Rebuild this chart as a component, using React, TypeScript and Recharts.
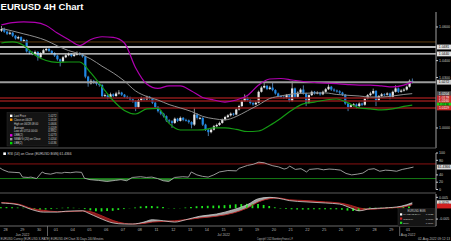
import React from 'react';
import { ComposedChart, Bar, Line, Area, XAxis, YAxis, ReferenceLine } from 'recharts';

// ---------- price candles (4H) ----------
const opens = [
  1.0578, 1.0588, 1.0572, 1.0560, 1.0566, 1.0548, 1.0532, 1.0540, 1.0518, 1.0522,
  1.0455, 1.0448, 1.0440, 1.0452, 1.0420, 1.0445, 1.0462, 1.0470, 1.0458, 1.0445,
  1.0430, 1.0408, 1.0395, 1.0420, 1.0432, 1.0440, 1.0428, 1.0436, 1.0445, 1.0438,
  1.0425, 1.0305, 1.0265, 1.0280, 1.0270, 1.0262, 1.0255, 1.0190, 1.0195, 1.0180,
  1.0200, 1.0190, 1.0205, 1.0210, 1.0198, 1.0185, 1.0180, 1.0170, 1.0160, 1.0125,
  1.0165, 1.0178, 1.0170, 1.0185, 1.0175, 1.0150, 1.0125, 1.0100, 1.0085, 1.0070,
  1.0045, 1.0040, 1.0030, 1.0055, 1.0042, 1.0060, 1.0048, 1.0045, 1.0035, 1.0020,
  1.0080, 1.0060, 1.0060, 1.0020, 0.9990, 0.9975, 0.9990, 1.0010, 1.0018, 1.0030,
  1.0050, 1.0065, 1.0075, 1.0085, 1.0080, 1.0110, 1.0130, 1.0160, 1.0180, 1.0165,
  1.0148, 1.0140, 1.0150, 1.0215, 1.0240, 1.0250, 1.0232, 1.0240, 1.0225, 1.0205,
  1.0190, 1.0185, 1.0180, 1.0195, 1.0160, 1.0235, 1.0185, 1.0210, 1.0228, 1.0205,
  1.0150, 1.0195, 1.0215, 1.0205, 1.0210, 1.0200, 1.0215, 1.0230, 1.0245, 1.0228,
  1.0222, 1.0218, 1.0210, 1.0198, 1.0145, 1.0125, 1.0135, 1.0140, 1.0130, 1.0145,
  1.0138, 1.0175, 1.0195, 1.0205, 1.0220, 1.0165, 1.0190, 1.0200, 1.0198, 1.0205,
  1.0185, 1.0215, 1.0235, 1.0215, 1.0222, 1.0228, 1.0245, 1.0280,
];
const highs = [
  1.0606, 1.0596, 1.0580, 1.0574, 1.0570, 1.0553, 1.0548, 1.0545, 1.0530, 1.0526,
  1.0462, 1.0455, 1.0460, 1.0456, 1.0450, 1.0470, 1.0485, 1.0476, 1.0463, 1.0450,
  1.0435, 1.0412, 1.0428, 1.0440, 1.0448, 1.0445, 1.0442, 1.0455, 1.0450, 1.0442,
  1.0430, 1.0310, 1.0290, 1.0286, 1.0275, 1.0268, 1.0260, 1.0205, 1.0200, 1.0210,
  1.0206, 1.0215, 1.0225, 1.0215, 1.0202, 1.0192, 1.0186, 1.0176, 1.0165, 1.0172,
  1.0186, 1.0184, 1.0192, 1.0190, 1.0180, 1.0155, 1.0130, 1.0106, 1.0090, 1.0075,
  1.0052, 1.0046, 1.0062, 1.0060, 1.0068, 1.0065, 1.0055, 1.0050, 1.0040, 1.0120,
  1.0088, 1.0068, 1.0064, 1.0025, 0.9995, 0.9998, 1.0018, 1.0026, 1.0038, 1.0056,
  1.0072, 1.0082, 1.0092, 1.0090, 1.0116, 1.0138, 1.0168, 1.0200, 1.0186, 1.0170,
  1.0155, 1.0158, 1.0222, 1.0248, 1.0268, 1.0256, 1.0250, 1.0270, 1.0230, 1.0210,
  1.0196, 1.0192, 1.0202, 1.0200, 1.0278, 1.0240, 1.0218, 1.0236, 1.0253, 1.0210,
  1.0200, 1.0222, 1.0220, 1.0218, 1.0215, 1.0222, 1.0238, 1.0258, 1.0250, 1.0235,
  1.0228, 1.0224, 1.0215, 1.0202, 1.0150, 1.0142, 1.0148, 1.0146, 1.0152, 1.0150,
  1.0182, 1.0202, 1.0215, 1.0234, 1.0225, 1.0196, 1.0208, 1.0206, 1.0212, 1.0210,
  1.0222, 1.0254, 1.0240, 1.0230, 1.0236, 1.0252, 1.0288, 1.0294,
];
const lows = [
  1.0570, 1.0565, 1.0552, 1.0553, 1.0540, 1.0525, 1.0526, 1.0512, 1.0510, 1.0448,
  1.0438, 1.0432, 1.0435, 1.0400, 1.0415, 1.0440, 1.0455, 1.0450, 1.0438, 1.0422,
  1.0400, 1.0366, 1.0390, 1.0415, 1.0426, 1.0420, 1.0422, 1.0430, 1.0430, 1.0418,
  1.0295, 1.0245, 1.0258, 1.0262, 1.0252, 1.0245, 1.0180, 1.0182, 1.0170, 1.0175,
  1.0182, 1.0185, 1.0198, 1.0190, 1.0178, 1.0172, 1.0162, 1.0150, 1.0100, 1.0118,
  1.0158, 1.0162, 1.0165, 1.0168, 1.0142, 1.0118, 1.0092, 1.0076, 1.0062, 1.0036,
  1.0030, 1.0000, 1.0024, 1.0035, 1.0038, 1.0040, 1.0038, 1.0026, 0.9998, 1.0012,
  1.0050, 1.0050, 1.0012, 0.9982, 0.9952, 0.9968, 0.9985, 1.0004, 1.0012, 1.0025,
  1.0044, 1.0058, 1.0068, 1.0072, 1.0076, 1.0104, 1.0125, 1.0155, 1.0158, 1.0140,
  1.0132, 1.0135, 1.0146, 1.0210, 1.0235, 1.0225, 1.0226, 1.0218, 1.0198, 1.0182,
  1.0176, 1.0172, 1.0174, 1.0153, 1.0155, 1.0178, 1.0180, 1.0204, 1.0198, 1.0130,
  1.0145, 1.0190, 1.0198, 1.0200, 1.0192, 1.0195, 1.0210, 1.0225, 1.0220, 1.0215,
  1.0210, 1.0202, 1.0190, 1.0138, 1.0100, 1.0118, 1.0128, 1.0115, 1.0124, 1.0130,
  1.0132, 1.0170, 1.0188, 1.0200, 1.0130, 1.0160, 1.0185, 1.0190, 1.0192, 1.0170,
  1.0180, 1.0210, 1.0208, 1.0210, 1.0216, 1.0222, 1.0240, 1.0265,
];
const closes = [
  1.0588, 1.0572, 1.0560, 1.0566, 1.0548, 1.0532, 1.0540, 1.0518, 1.0522, 1.0455,
  1.0448, 1.0440, 1.0452, 1.0420, 1.0445, 1.0462, 1.0470, 1.0458, 1.0445, 1.0430,
  1.0408, 1.0395, 1.0420, 1.0432, 1.0440, 1.0428, 1.0436, 1.0445, 1.0438, 1.0425,
  1.0305, 1.0265, 1.0280, 1.0270, 1.0262, 1.0255, 1.0190, 1.0195, 1.0180, 1.0200,
  1.0190, 1.0205, 1.0210, 1.0198, 1.0185, 1.0180, 1.0170, 1.0160, 1.0125, 1.0165,
  1.0178, 1.0170, 1.0185, 1.0175, 1.0150, 1.0125, 1.0100, 1.0085, 1.0070, 1.0045,
  1.0040, 1.0030, 1.0055, 1.0042, 1.0060, 1.0048, 1.0045, 1.0035, 1.0020, 1.0080,
  1.0060, 1.0060, 1.0020, 0.9990, 0.9975, 0.9990, 1.0010, 1.0018, 1.0030, 1.0050,
  1.0065, 1.0075, 1.0085, 1.0080, 1.0110, 1.0130, 1.0160, 1.0180, 1.0165, 1.0148,
  1.0140, 1.0150, 1.0215, 1.0240, 1.0250, 1.0232, 1.0240, 1.0225, 1.0205, 1.0190,
  1.0185, 1.0180, 1.0195, 1.0160, 1.0235, 1.0185, 1.0210, 1.0228, 1.0205, 1.0150,
  1.0195, 1.0215, 1.0205, 1.0210, 1.0200, 1.0215, 1.0230, 1.0245, 1.0228, 1.0222,
  1.0218, 1.0210, 1.0198, 1.0145, 1.0125, 1.0135, 1.0140, 1.0130, 1.0145, 1.0138,
  1.0175, 1.0195, 1.0205, 1.0220, 1.0165, 1.0190, 1.0200, 1.0198, 1.0205, 1.0185,
  1.0215, 1.0235, 1.0215, 1.0222, 1.0228, 1.0245, 1.0280, 1.0272,
];

// ---------- Bollinger band / SMA readings (every 4th candle) ----------
const bandIdx = [0, 4, 8, 12, 16, 20, 24, 28, 32, 36, 40, 44, 48, 52, 56, 60, 64, 68, 72, 76, 80, 84, 88, 92, 96, 100, 104, 108, 112, 116, 120, 124, 128, 132, 136, 140, 144, 147];
const ubbVals = [1.0612, 1.0626, 1.0630, 1.0627, 1.0609, 1.0564, 1.0526, 1.0490, 1.0526, 1.0542, 1.0538, 1.0505, 1.0358, 1.0261, 1.0235, 1.0250, 1.0250, 1.0220, 1.0181, 1.0166, 1.0154, 1.0166, 1.0193, 1.0255, 1.0291, 1.0294, 1.0285, 1.0276, 1.0270, 1.0267, 1.0263, 1.0258, 1.0255, 1.0255, 1.0250, 1.0244, 1.0255, 1.0273];
const smaVals = [1.0592, 1.0576, 1.0559, 1.0542, 1.0520, 1.0488, 1.0460, 1.0440, 1.0410, 1.0367, 1.0327, 1.0279, 1.0220, 1.0187, 1.0166, 1.0139, 1.0119, 1.0098, 1.0069, 1.0055, 1.0048, 1.0068, 1.0102, 1.0137, 1.0175, 1.0190, 1.0202, 1.0206, 1.0208, 1.0208, 1.0199, 1.0194, 1.0190, 1.0184, 1.0184, 1.0190, 1.0199, 1.0204];
const lbbVals = [1.0505, 1.0511, 1.0490, 1.0434, 1.0401, 1.0390, 1.0392, 1.0392, 1.0327, 1.0244, 1.0163, 1.0104, 1.0083, 1.0113, 1.0116, 1.0027, 0.9988, 0.9988, 0.9989, 1.0000, 1.0000, 0.9992, 0.9979, 0.9982, 1.0015, 1.0058, 1.0107, 1.0143, 1.0154, 1.0166, 1.0172, 1.0149, 1.0119, 1.0113, 1.0107, 1.0113, 1.0128, 1.0136];

// ---------- RSI(14) readings ----------
const rsiIdx = [0, 1, 3, 5, 7, 8, 10, 11, 13, 15, 16, 18, 20, 22, 23, 25, 27, 29, 30, 32, 35, 38, 41, 43, 45, 47, 50, 52, 54, 56, 58, 60, 62, 65, 67, 68, 70, 72, 74, 76, 78, 81, 84, 85, 88, 90, 92, 94, 95, 97, 99, 101, 102, 103, 105, 107, 109, 110, 113, 115, 117, 119, 121, 123, 125, 127, 129, 131, 133, 135, 137, 139, 141, 143, 145, 147];
const rsiVals = [59, 54, 48, 47, 46, 34, 33, 34, 30, 48, 44, 42, 46, 45, 47, 46, 48, 47, 31, 27, 25, 22, 25, 27, 24, 33, 35, 33, 34, 30, 24, 22, 33, 35, 34, 48, 40, 36, 34, 40, 48, 52, 51, 58, 66, 69, 75, 73, 70, 65, 62, 56, 58, 64, 55, 57, 48, 55, 57, 54, 56, 55, 53, 44, 40, 42, 45, 55, 57, 50, 53, 52, 50, 55, 58, 61.4366];

// ---------- MACD(12,26,9) readings ----------
const macdIdx = [0, 6, 11, 15, 20, 23, 29, 31, 35, 40, 44, 47, 51, 54, 58, 62, 66, 71, 77, 83, 88, 92, 96, 99, 103, 109, 116, 121, 125, 128, 132, 137, 143, 147];
const macdVals = [0.0024, 0.0016, -0.0007, -0.0018, -0.0018, -0.0014, -0.0012, -0.0022, -0.0045, -0.0068, -0.0073, -0.0073, -0.0064, -0.0053, -0.0058, -0.0064, -0.0053, -0.0037, -0.0027, -0.0007, 0.0016, 0.0044, 0.0050, 0.0046, 0.0035, 0.0029, 0.0024, 0.0019, 0.0001, -0.0012, -0.0002, 0.0001, 0.0009, 0.0025];
const signalVals = [0.0026, 0.0019, -0.0002, -0.0010, -0.0016, -0.0016, -0.0013, -0.0014, -0.0030, -0.0057, -0.0070, -0.0073, -0.0070, -0.0064, -0.0061, -0.0058, -0.0053, -0.0045, -0.0037, -0.0022, 0.0001, 0.0029, 0.0044, 0.0047, 0.0039, 0.0035, 0.0029, 0.0024, 0.0013, 0.0001, -0.0005, 0.0000, 0.0004, 0.0016];
const diffIdx = [0, 2, 4, 6, 8, 10, 12, 14, 16, 18, 20, 22, 24, 26, 28, 30, 32, 34, 36, 38, 40, 42, 44, 46, 48, 50, 52, 54, 56, 58, 60, 62, 64, 66, 68, 70, 72, 74, 76, 78, 80, 82, 84, 86, 88, 90, 92, 94, 96, 98, 100, 102, 104, 106, 108, 110, 112, 114, 116, 118, 120, 122, 124, 126, 128, 130, 132, 134, 136, 138, 140, 142, 144, 146];
const diffVals = [
  0.0004, 0.0005, 0.0004, 0.0003, 0.0002, -0.0003, -0.0005, -0.0007, -0.0006, -0.0004,
  -0.0002, 0.0002, 0.0003, 0.0002, 0.0001, -0.0004, -0.0010, -0.0014, -0.0015, -0.0013,
  -0.0012, -0.0008, -0.0004, -0.0001, 0.0003, 0.0008, 0.0010, 0.0010, 0.0008, 0.0005,
  0.0001, -0.0002, 0.0001, 0.0003, 0.0006, 0.0009, 0.0010, 0.0011, 0.0012, 0.0012,
  0.0014, 0.0016, 0.0018, 0.0019, 0.0020, 0.0020, 0.0019, 0.0015, 0.0010, 0.0004,
  -0.0002, -0.0004, -0.0005, -0.0006, -0.0006, -0.0006, -0.0005, -0.0005, -0.0005, -0.0005,
  -0.0005, -0.0007, -0.0011, -0.0013, -0.0012, -0.0004, 0.0003, 0.0002, 0.0002, 0.0003,
  0.0004, 0.0005, 0.0006, 0.0008,
];

// ---------- axis labels ----------
const dayLabels = ['28', '29', '30', '01', '04', '05', '06', '07', '08', '11', '12', '13', '14', '15', '18', '19', '20', '21', '22', '25', '26', '27', '28', '29', '01'];
const monthLabelDays = [1, 13, 24];
const monthLabelNames = ['Jun 2022', 'Jul 2022', 'Aug 2022'];
const monthStartDays = [3, 24];
const priceTicks = [1.0, 1.03, 1.04, 1.06];
const rsiTicks = [0, 20, 40, 80, 100];
const macdTicks = [-0.005, 0.005];

// ---------- horizontal levels and right-edge tags ----------
const levelValues = [1.0511, 1.0481, 1.0440, 1.0272, 1.0178, 1.0160, 1.0119];
const levelStrokes = ['#5e3c10', '#bdbdbd', '#e4e4e4', '#9c9c9c', '#8c1a1a', '#8c1a1a', '#8c1a1a'];
const levelWidths = [1, 2, 1.4, 2, 1.5, 1.5, 1.5];
const tagValues = [1.0481, 1.0440, 1.0272, 1.0204, 1.0178, 1.0160, 1.0136, 1.0119];
const tagBgs = ['#e2e2e2', '#e2e2e2', '#cfcfcf', '#4a4a4a', '#c62828', '#c62828', '#19d219', '#c62828'];
const tagFgs = ['#000', '#000', '#000', '#fff', '#fff', '#fff', '#000', '#fff'];

// ---------- legend texts ----------
const legendNames = ['Last Price', 'Close on 06/28', 'High on 06/28 08:00', 'Average', 'Low on 07/14 00:00', 'UBB(2)', 'SMAVG (20) on Close', 'LBB(2)'];
const legendValues = ['1.0272', '1.0518', '1.0606', '1.0209', '0.9952', '1.0273', '1.0204', '1.0136'];
const legendSwatches = ['#ffffff', '#ff9900', '', '', '', '#e000e0', '#9a9a9a', '#00dd00'];

// ---------- layout ----------
const N_BANDS = 156;
const PLOT_W = 436;
const BW = PLOT_W / N_BANDS;
const FONT = '"Liberation Sans", Arial, sans-serif';

type Row = {
  i: number;
  open: number | null; high: number | null; low: number | null; close: number | null;
  ubb: number | null; sma: number | null; lbb: number | null;
  rsi: number | null; macd: number | null; signal: number | null; diff: number | null;
};

const table: Row[] = Array.from({ length: N_BANDS }, (_, i) => ({
  i,
  open: opens[i] ?? null,
  high: highs[i] ?? null,
  low: lows[i] ?? null,
  close: closes[i] ?? null,
  ubb: null, sma: null, lbb: null, rsi: null, macd: null, signal: null, diff: null,
}));
bandIdx.forEach((idx, j) => {
  table[idx].ubb = ubbVals[j];
  table[idx].sma = smaVals[j];
  table[idx].lbb = lbbVals[j];
});
rsiIdx.forEach((idx, j) => { table[idx].rsi = rsiVals[j]; });
macdIdx.forEach((idx, j) => { table[idx].macd = macdVals[j]; table[idx].signal = signalVals[j]; });
diffIdx.forEach((idx, j) => { table[idx].diff = diffVals[j]; });

const dayTickIdx = dayLabels.map((_, k) => 6 * k + 1);

const Candle = (props: any) => {
  const { x, y, width, height, index } = props;
  const d: Row = (props.payload && props.payload.high != null) ? props.payload : table[index];
  if (!d || d.high == null || d.low == null || d.open == null || d.close == null) return null;
  const top = Math.min(y, y + height);
  const h = Math.abs(height);
  const span = d.high - d.low || 1;
  const py = (v: number) => top + ((d.high as number) - v) / span * h;
  const cx = x + width / 2;
  const up = d.close >= d.open;
  const yO = py(d.open);
  const yC = py(d.close);
  const bTop = Math.min(yO, yC);
  const bH = Math.max(0.9, Math.abs(yO - yC));
  return (
    <g>
      <line x1={cx} x2={cx} y1={top} y2={top + h} stroke={up ? '#cfcfcf' : '#6aaae8'} strokeWidth={0.7} />
      <rect x={cx - 1.1} y={bTop} width={2.2} height={bH} fill={up ? '#e6e6e6' : '#1e88e5'} />
    </g>
  );
};

const tagLabel = (text: string, bg: string, fg: string) => (props: any) => {
  const vb = props.viewBox || {};
  const x0 = (vb.x ?? 0) + (vb.width ?? 0) + 1;
  const yy = vb.y ?? 0;
  return (
    <g>
      <rect x={x0} y={yy - 2.4} width={14} height={4.8} fill={bg} />
      <text x={x0 + 7} y={yy + 1.3} fontSize={3.4} fontFamily={FONT} textAnchor="middle" fill={fg}>{text}</text>
    </g>
  );
};

const DayTick = (props: any) => {
  const { x, y, payload } = props;
  const k = dayTickIdx.indexOf(payload.value);
  if (k < 0) return null;
  const cx = x + BW / 2;
  const m = monthLabelDays.indexOf(k);
  const isStart = monthStartDays.includes(k);
  return (
    <g>
      <text x={cx} y={y + 4.6} fontSize={3.8} fontFamily={FONT} textAnchor="middle" fill="#b8b8b8">{dayLabels[k]}</text>
      {m >= 0 && (
        <text x={cx} y={y + 9.6} fontSize={3.4} fontFamily={FONT} textAnchor="middle" fill="#b8b8b8">{monthLabelNames[m]}</text>
      )}
      {isStart && (
        <line x1={x - 2.5 * BW} x2={x - 2.5 * BW} y1={y} y2={y + 10} stroke="#777" strokeWidth={0.8} />
      )}
    </g>
  );
};

const yTick = { fontSize: 3.6, fill: '#c8c8c8', fontFamily: FONT };

export default function App() {
  const lastMacd = macdVals[macdVals.length - 1];
  const lastSignal = signalVals[signalVals.length - 1];
  const lastRsi = rsiVals[rsiVals.length - 1];
  return (
    <div style={{ position: 'fixed', left: 0, top: 0, width: 451, height: 241, background: '#000', overflow: 'hidden' }}>
      {/* main price panel */}
      <div style={{ position: 'absolute', left: 0, top: 0 }}>
        <ComposedChart width={451} height={148} data={table} margin={{ top: 12, right: 0, bottom: 0, left: 0 }} barCategoryGap={0} barGap={0}>
          <XAxis dataKey="i" hide />
          <YAxis
            orientation="right" width={15} domain={[0.9881, 1.0689]} allowDataOverflow ticks={priceTicks} interval={0}
            tick={yTick} tickSize={2} tickMargin={1} tickLine={{ stroke: '#ccc' }} axisLine={{ stroke: '#a0a0a0' }}
            tickFormatter={(v: number) => v.toFixed(4)}
          />
          {levelValues.map((v, j) => (
            <ReferenceLine key={'lv' + j} y={v} stroke={levelStrokes[j]} strokeWidth={levelWidths[j]} />
          ))}
          <Bar dataKey={(d: Row) => (d.low == null ? null : [d.low, d.high])} shape={Candle} isAnimationActive={false} />
          <Line dataKey="sma" type="monotone" stroke="#8e8e8e" strokeWidth={1} dot={false} connectNulls isAnimationActive={false} />
          <Line dataKey="ubb" type="monotone" stroke="#b000b0" strokeWidth={1.2} dot={false} connectNulls isAnimationActive={false} />
          <Line dataKey="lbb" type="monotone" stroke="#149a14" strokeWidth={1.2} dot={false} connectNulls isAnimationActive={false} />
          {tagValues.map((v, j) => (
            <ReferenceLine key={'tg' + j} y={v} stroke="none" strokeWidth={0} label={tagLabel(v.toFixed(4), tagBgs[j], tagFgs[j])} />
          ))}
        </ComposedChart>
      </div>

      {/* RSI panel */}
      <div style={{ position: 'absolute', left: 0, top: 148 }}>
        <ComposedChart width={451} height={45} data={table} margin={{ top: 5, right: 0, bottom: 3.5, left: 0 }}>
          <XAxis dataKey="i" hide />
          <YAxis
            orientation="right" width={15} domain={[0, 100]} ticks={rsiTicks} interval={0}
            tick={yTick} tickSize={2} tickMargin={1} tickLine={{ stroke: '#ccc' }} axisLine={{ stroke: '#a0a0a0' }}
          />
          <ReferenceLine y={70} stroke="#8a1212" strokeWidth={1} />
          <ReferenceLine y={30} stroke="#157a15" strokeWidth={1} />
          <Area dataKey={(d: Row) => (d.rsi == null ? null : [Math.min(d.rsi, 30), 30])} type="linear" stroke="none" fill="#3d8c3d" fillOpacity={0.9} connectNulls isAnimationActive={false} />
          <Area dataKey={(d: Row) => (d.rsi == null ? null : [70, Math.max(d.rsi, 70)])} type="linear" stroke="none" fill="#a03030" fillOpacity={0.9} connectNulls isAnimationActive={false} />
          <Line dataKey="rsi" type="linear" stroke="#a8a8a8" strokeWidth={0.9} dot={false} connectNulls isAnimationActive={false} />
          <ReferenceLine y={lastRsi} stroke="none" strokeWidth={0} label={tagLabel(lastRsi.toFixed(4), '#d8d8d8', '#000')} />
        </ComposedChart>
      </div>

      {/* MACD panel + date axis */}
      <div style={{ position: 'absolute', left: 0, top: 193 }}>
        <ComposedChart width={451} height={48} data={table} margin={{ top: 1, right: 0, bottom: 0, left: 0 }} barCategoryGap={0}>
          <XAxis
            dataKey="i" height={15} ticks={dayTickIdx} interval={0} tick={<DayTick />}
            tickLine={false} tickSize={0} tickMargin={0} axisLine={{ stroke: '#6a6a6a' }}
          />
          <YAxis
            orientation="right" width={15} domain={[-0.0082, 0.00654]} allowDataOverflow ticks={macdTicks} interval={0}
            tick={yTick} tickSize={2} tickMargin={1} tickLine={{ stroke: '#ccc' }} axisLine={{ stroke: '#a0a0a0' }}
            tickFormatter={(v: number) => v.toFixed(3)}
          />
          <Area dataKey={(d: Row) => (d.macd == null || d.signal == null ? null : [d.signal, Math.max(d.macd, d.signal)])} type="monotone" stroke="none" fill="#a0a0a0" fillOpacity={1} connectNulls isAnimationActive={false} />
          <Area dataKey={(d: Row) => (d.macd == null || d.signal == null ? null : [Math.min(d.macd, d.signal), d.signal])} type="monotone" stroke="none" fill="#8a1c1c" fillOpacity={1} connectNulls isAnimationActive={false} />
          <Line dataKey="signal" type="monotone" stroke="#b82424" strokeWidth={0.9} dot={false} connectNulls isAnimationActive={false} />
          <Line dataKey="macd" type="monotone" stroke="#d0d0d0" strokeWidth={0.8} dot={false} connectNulls isAnimationActive={false} />
          <Bar dataKey="diff" fill="#1ee61e" barSize={1.8} isAnimationActive={false} />
          <ReferenceLine y={lastMacd} stroke="none" strokeWidth={0} label={tagLabel(lastMacd.toFixed(4), '#e0e0e0', '#000')} />
          <ReferenceLine y={lastSignal - 0.0006} stroke="none" strokeWidth={0} label={tagLabel('', '#d02020', '#fff')} />
        </ComposedChart>
      </div>

      {/* overlay: title, legends, separators, footer */}
      <svg width={451} height={241} style={{ position: 'absolute', left: 0, top: 0, pointerEvents: 'none' }}>
        <text x={0.5} y={10.2} fontSize={9.5} fontWeight="bold" fontFamily={FONT} fill="#ffffff" textLength={83} lengthAdjust="spacingAndGlyphs">EURUSD 4H Chart</text>

        <line x1={0} x2={436} y1={148} y2={148} stroke="#5a5a5a" strokeWidth={1} />
        <line x1={0} x2={436} y1={193} y2={193} stroke="#5a5a5a" strokeWidth={1} />

        {/* price legend */}
        <rect x={7} y={112.5} width={51} height={33.5} fill="#141414" stroke="#2a2a2a" strokeWidth={0.5} />
        {legendNames.map((n, j) => (
          <g key={'lg' + j}>
            {legendSwatches[j] ? (
              <rect x={10} y={114.6 + j * 3.9} width={2.4} height={2.4} fill={legendSwatches[j]} />
            ) : null}
            <text x={14} y={116.8 + j * 3.9} fontSize={2.7} fontFamily={FONT} fill="#cfcfcf">{n}</text>
            <text x={56.5} y={116.8 + j * 3.9} fontSize={2.7} fontFamily={FONT} fill="#cfcfcf" textAnchor="end">{legendValues[j]}</text>
          </g>
        ))}

        {/* RSI legend */}
        <rect x={3.3} y={152.4} width={2.6} height={2.6} fill="#ffffff" />
        <text x={7.5} y={155.1} fontSize={3} fontFamily={FONT} fill="#d0d0d0" textLength={64} lengthAdjust="spacingAndGlyphs">
          {'RSI (14) on Close (EURUSD BGN) ' + lastRsi.toFixed(4)}
        </text>

        {/* MACD legend */}
        <rect x={398} y={208.8} width={37} height={17.5} fill="#141414" stroke="#2c2c2c" strokeWidth={0.5} />
        <text x={416.5} y={211.8} fontSize={2.7} fontFamily={FONT} fill="#cfcfcf" textAnchor="middle">EURUSD BGN</text>
        <rect x={400} y={213.3} width={2.2} height={2.2} fill="#ffffff" />
        <text x={403.2} y={215.4} fontSize={2.5} fontFamily={FONT} fill="#cfcfcf">MACD(12,26,9)</text>
        <text x={433.5} y={215.4} fontSize={2.5} fontFamily={FONT} fill="#cfcfcf" textAnchor="end">{lastMacd.toFixed(4)}</text>
        <rect x={400} y={217.5} width={2.2} height={2.2} fill="#d02020" />
        <text x={403.2} y={219.6} fontSize={2.5} fontFamily={FONT} fill="#cfcfcf">Signal(9)</text>
        <text x={433.5} y={219.6} fontSize={2.5} fontFamily={FONT} fill="#cfcfcf" textAnchor="end">{lastSignal.toFixed(4)}</text>
        <rect x={400} y={221.7} width={2.2} height={2.2} fill="#22dd22" />
        <text x={403.2} y={223.8} fontSize={2.5} fontFamily={FONT} fill="#cfcfcf">DIFF</text>
        <text x={433.5} y={223.8} fontSize={2.5} fontFamily={FONT} fill="#cfcfcf" textAnchor="end">{(lastMacd - lastSignal).toFixed(4)}</text>

        {/* footer */}
        <text x={0.5} y={239.6} fontSize={3} fontFamily={FONT} fill="#bdbdbd" textLength={103} lengthAdjust="spacingAndGlyphs">EURUSD Curncy (EUR-USD X-RATE) EURUSD 4H Chart 30 Days 240 Minutes</text>
        <text x={257} y={239.6} fontSize={3} fontFamily={FONT} fill="#bdbdbd" textLength={36} lengthAdjust="spacingAndGlyphs">Copyright© 2022 Bloomberg Finance L.P.</text>
        <text x={418} y={239.6} fontSize={3} fontFamily={FONT} fill="#bdbdbd" textLength={32} lengthAdjust="spacingAndGlyphs">02-Aug-2022 09:12:13</text>
      </svg>
    </div>
  );
}
